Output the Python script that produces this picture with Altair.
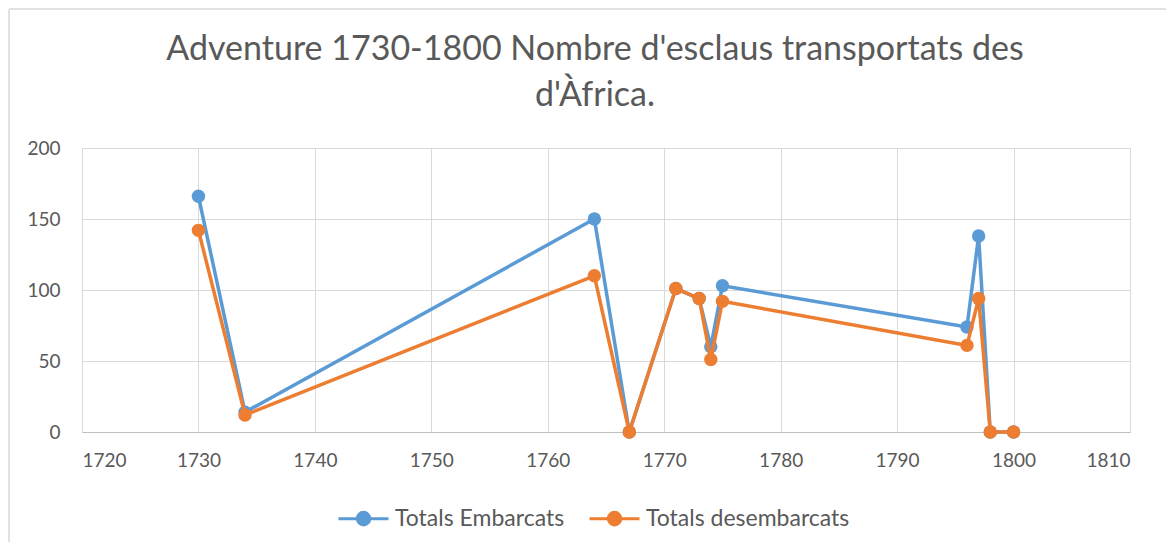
import altair as alt
import pandas as pd

years = [1730, 1734, 1764, 1767, 1771, 1773, 1774, 1775, 1796, 1797, 1798, 1800]
embarcats = [166, 14, 150, 0, 101, 94, 60, 103, 74, 138, 0, 0]
desembarcats = [142, 12, 110, 0, 101, 94, 51, 92, 61, 94, 0, 0]
series_names = ["Totals Embarcats", "Totals desembarcats"]
series_colors = ["#5B9BD5", "#ED7D31"]
x_ticks = [1720, 1730, 1740, 1750, 1760, 1770, 1780, 1790, 1800, 1810]
y_ticks = [0, 50, 100, 150, 200]
title_lines = ["Adventure 1730-1800 Nombre d'esclaus transportats des", "d'Àfrica."]

rows = []
for name, vals in zip(series_names, [embarcats, desembarcats]):
    for yr, v in zip(years, vals):
        rows.append({"Any": yr, "Valor": v, "Sèrie": name})
df = pd.DataFrame(rows)

FONT = "Lato"
TXT = "#595959"
GRID = "#D9D9D9"

W, H = 1048, 284
PL, PT, PR, PB = 74, 140, 36, 110

x = alt.X("Any:Q", scale=alt.Scale(domain=[1720, 1810], nice=False),
          axis=alt.Axis(values=x_ticks, format="d", title=None, grid=True, gridColor=GRID,
                        ticks=False, domain=True, domainColor="#BFBFBF", labelPadding=19,
                        labelFontSize=19, labelColor=TXT, labelFont=FONT))
y = alt.Y("Valor:Q", scale=alt.Scale(domain=[0, 200], nice=False),
          axis=alt.Axis(values=y_ticks, title=None, grid=True, gridColor=GRID, ticks=False,
                        domain=False, labelPadding=22, labelFontSize=19, labelColor=TXT,
                        labelFont=FONT))

legend_path = "M-1,0L1,0M-0.25,0A0.25,0.25,0,1,1,0.25,0A0.25,0.25,0,1,1,-0.25,0Z"
color = alt.Color("Sèrie:N", scale=alt.Scale(domain=series_names, range=series_colors),
                  legend=alt.Legend(title=None, orient="none", direction="horizontal",
                                    legendX=255, legendY=344, symbolType=legend_path,
                                    symbolSize=2500, symbolStrokeWidth=3, labelFontSize=23,
                                    labelFont=FONT, labelColor=TXT, labelOffset=5,
                                    labelLimit=400, columnPadding=18))

base = alt.Chart(df).encode(x=x, y=y, color=color)
layers = []
for name in series_names:
    sub = base.transform_filter(alt.datum["Sèrie"] == name)
    layers.append(sub.mark_line(strokeWidth=3.5))
    layers.append(sub.mark_point(filled=True, size=180, opacity=1))

frame = pd.DataFrame({"k": [0]})
border_left = alt.Chart(frame).mark_rule(color=GRID, strokeWidth=1.5).encode(
    x=alt.value(-73), y=alt.value(-139), y2=alt.value(H + PB))
border_top = alt.Chart(frame).mark_rule(color=GRID, strokeWidth=1.5).encode(
    x=alt.value(-73), x2=alt.value(W + PR), y=alt.value(-139))

chart = alt.layer(border_left, border_top, *layers).properties(
    width=W, height=H,
    padding={"left": PL, "top": PT, "right": PR, "bottom": PB},
    autosize=alt.AutoSizeParams(type="none"),
    title=alt.TitleParams(text=title_lines, fontSize=34, font=FONT, color=TXT,
                          fontWeight="normal", lineHeight=46, offset=-105, dx=-11,
                          anchor="middle", frame="group"),
).configure_view(stroke=None)

chart.save("out.html", embed_options={"renderer": "svg", "actions": False})
